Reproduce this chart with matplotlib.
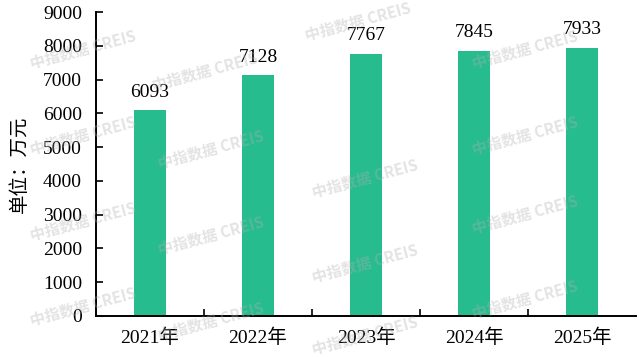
import matplotlib
matplotlib.use('Agg')
import matplotlib.pyplot as plt

years = ['2021年', '2022年', '2023年', '2024年', '2025年']
values = [6093, 7128, 7767, 7845, 7933]
yticks = [0, 1000, 2000, 3000, 4000, 5000, 6000, 7000, 8000, 9000]

plt.rcParams['font.family'] = ['Liberation Serif', 'Noto Sans CJK SC']

fig = plt.figure(figsize=(6.4, 3.57), dpi=100)
ax = fig.add_axes([0.15, 0.115, 0.844, 0.851])

x = list(range(len(years)))
ax.bar(x, values, width=0.29, color='#27bc8e')
for i, v in enumerate(values):
    ax.annotate(str(v), (i, v), xytext=(0, 7), textcoords='offset points',
                ha='center', va='bottom', fontsize=14)

ax.set_xlim(-0.5, len(years) - 0.5)
ax.set_ylim(0, 9000)
ax.set_yticks(yticks)
ax.set_yticklabels([str(t) for t in yticks], fontsize=14)
# ticks between categories, labels at centers
ax.set_xticks([i + 0.5 for i in range(len(years) - 1)])
ax.set_xticklabels([])
ax.set_xticks(x, minor=True)
ax.set_xticklabels(years, minor=True, fontsize=14)
ax.tick_params(axis='x', which='minor', length=0, pad=9)
ax.tick_params(axis='x', which='major', direction='in', length=5, width=1.2)
ax.tick_params(axis='y', direction='in', length=5, width=1.2, pad=10)
for s in ['top', 'right']:
    ax.spines[s].set_visible(False)
for s in ['left', 'bottom']:
    ax.spines[s].set_linewidth(1.4)
ax.set_ylabel('单位：万元', fontsize=14, labelpad=10)

# watermark
marks = [(0.13, 0.86), (0.32, 0.80), (0.56, 0.94), (0.82, 0.86),
         (0.13, 0.62), (0.33, 0.58), (0.57, 0.50), (0.82, 0.62),
         (0.33, 0.34), (0.57, 0.26), (0.82, 0.40), (0.13, 0.38),
         (0.13, 0.14), (0.33, 0.10), (0.82, 0.16), (0.57, 0.06)]
for mx, my in marks:
    fig.text(mx, my, '中指数据 CREIS', fontsize=11, color='#b0b0b0', alpha=0.35,
             rotation=15, ha='center', va='center', family=['Noto Sans CJK SC'],
             fontweight='bold')

fig.savefig('out.png', dpi=100)
